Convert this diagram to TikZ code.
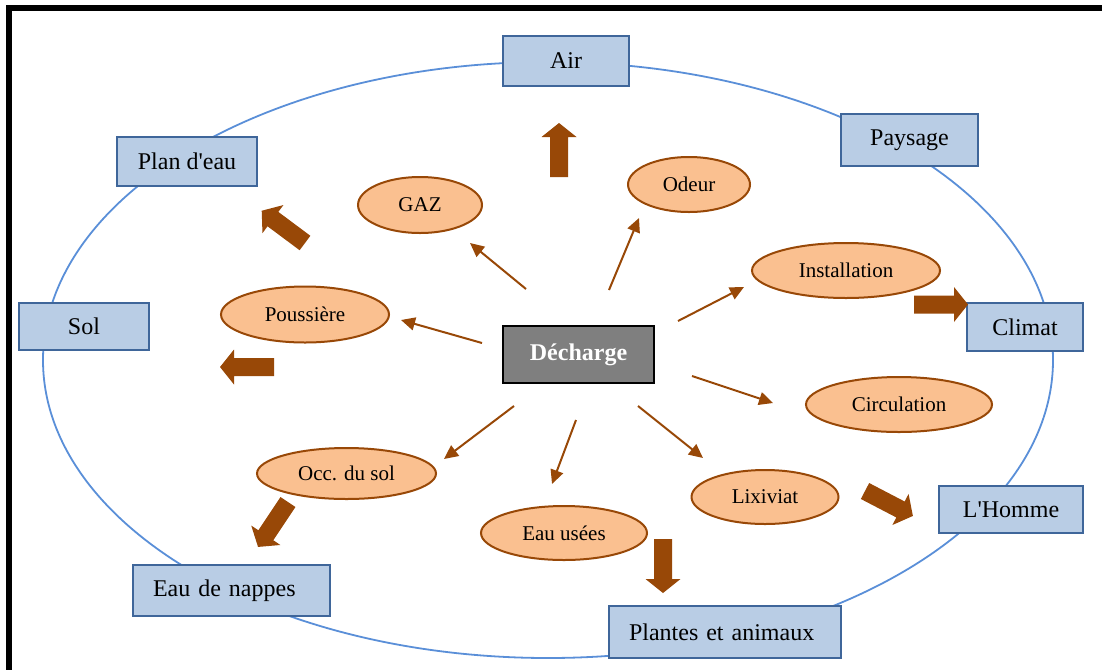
\documentclass[tikz,border=0pt]{standalone}
\usepackage{fontspec}
\setmainfont{Liberation Serif}
\usetikzlibrary{shapes.geometric,arrows.meta}
\definecolor{brn}{HTML}{984807}
\definecolor{ellfill}{HTML}{FAC090}
\definecolor{boxfill}{HTML}{B9CDE5}
\definecolor{boxline}{HTML}{3F669A}
\definecolor{ringc}{HTML}{5A8FD8}
\definecolor{dechfill}{HTML}{7F7F7F}
\tikzset{
  box/.style={draw=boxline, fill=boxfill, line width=2, inner sep=0, font=\fontsize{24}{28}\selectfont},
  lbox/.style={draw=boxline, fill=boxfill, line width=2, inner xsep=20, inner ysep=0, align=left, font=\fontsize{24}{28}\selectfont},
  ell/.style={ellipse, draw=brn, fill=ellfill, line width=2, inner sep=0, font=\fontsize{21}{25}\selectfont},
  dechbox/.style={draw=black, fill=dechfill, line width=2.5, inner sep=0, text=white, font=\fontsize{24}{28}\selectfont\bfseries},
  thin/.style={draw=brn, line width=2, -{Triangle[length=14pt,width=13pt]}},
  ring/.style={draw=ringc, line width=1.8},
  frame/.style={fill=black}
}
\newcommand\blockarr[2]{\fill[brn, shift={(#1)}, rotate=#2] (0,-9) -- (40,-9) -- (40,-17.5) -- (54,0) -- (40,17.5) -- (40,9) -- (0,9) -- cycle;}
\begin{document}
\begin{tikzpicture}[x=1pt, y=-1pt]
\useasboundingbox (0,0) rectangle (1102,670);
% frame
\fill[frame] (6,5) rectangle (12,670);
\fill[frame] (6,5) rectangle (1102,11);
% ring
\draw[ring] (548,360) ellipse [x radius=505, y radius=298];
% outer boxes
\node[box, minimum width=126, minimum height=50] (air) at (566,61) {Air};
\node[box, minimum width=137, minimum height=52] (paysage) at (909.5,140) {Paysage};
\node[box, minimum width=140, minimum height=49] (plan) at (187,161.5) {Plan d\textquotesingle eau};
\node[box, minimum width=130, minimum height=47] (sol) at (84,326.5) {Sol};
\node[box, minimum width=116, minimum height=48] (climat) at (1025,327) {Climat};
\node[box, minimum width=144, minimum height=47] (homme) at (1011,509.5) {L\textquotesingle Homme};
\node[lbox, text width=157, minimum height=51] (nappes) at (231.5,590.5) {Eau de nappes};
\node[lbox, text width=192, minimum height=52] (plantes) at (725,632) {Plantes et animaux};
% ellipses
\node[ell, minimum width=124, minimum height=56] (gaz) at (420,205) {GAZ};
\node[ell, minimum width=122, minimum height=55] (odeur) at (689,184.5) {Odeur};
\node[ell, minimum width=168, minimum height=56] (pous) at (305,314.5) {Poussière};
\node[ell, minimum width=188, minimum height=55] (inst) at (846,270.5) {Installation};
\node[ell, minimum width=186, minimum height=55] (circ) at (899,404.5) {Circulation};
\node[ell, minimum width=179, minimum height=51] (occ) at (346.5,473.5) {Occ. du sol};
\node[ell, minimum width=147, minimum height=54] (lix) at (765,497) {Lixiviat};
\node[ell, minimum width=166, minimum height=54] (eau) at (564,533) {Eau usées};
% centre
\node[dechbox, minimum width=151, minimum height=57] (dech) at (578.5,354.5) {Décharge};
% thin arrows
\coordinate (tgaz) at (526,289); \coordinate (hgaz) at (470,243);
\coordinate (tpous) at (482,343); \coordinate (hpous) at (401,320);
\coordinate (todeur) at (609,290); \coordinate (hodeur) at (639,218);
\coordinate (tinst) at (678,321); \coordinate (hinst) at (744,287);
\coordinate (tcirc) at (692,376); \coordinate (hcirc) at (773,403);
\coordinate (tlix) at (638,406); \coordinate (hlix) at (703,458);
\coordinate (teau) at (576,420); \coordinate (heau) at (552,484);
\coordinate (tocc) at (514,406); \coordinate (hocc) at (444,459);
\draw[thin] (tgaz) -- (hgaz);
\draw[thin] (tpous) -- (hpous);
\draw[thin] (todeur) -- (hodeur);
\draw[thin] (tinst) -- (hinst);
\draw[thin] (tcirc) -- (hcirc);
\draw[thin] (tlix) -- (hlix);
\draw[thin] (teau) -- (heau);
\draw[thin] (tocc) -- (hocc);
% block arrows
\blockarr{559,177}{90}
\blockarr{305,243}{143.3}
\blockarr{274,367}{180}
\blockarr{914,304.5}{0}
\blockarr{865,491}{-27.5}
\blockarr{663,539}{-90}
\blockarr{288,502}{-123.7}
\end{tikzpicture}
\end{document}
